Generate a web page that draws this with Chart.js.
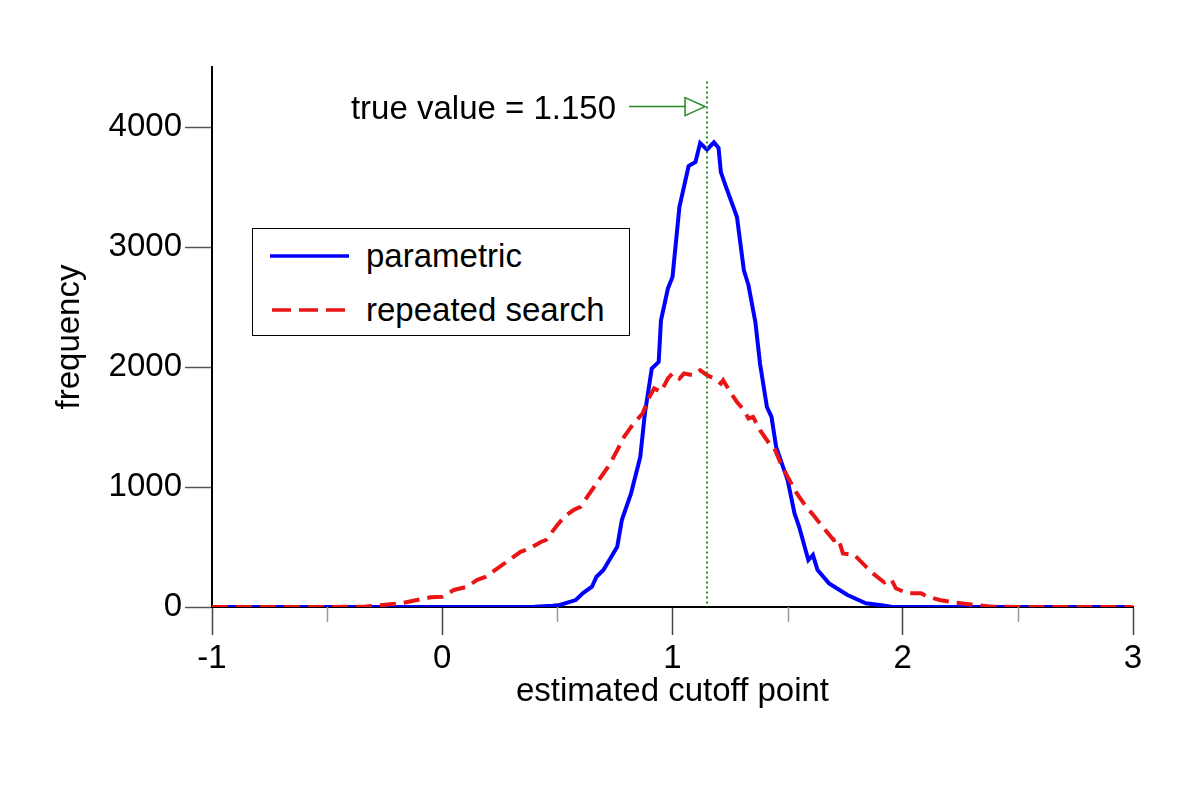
<!DOCTYPE html>
<html>
<head>
<meta charset="utf-8">
<script src="https://cdn.jsdelivr.net/npm/chart.js@4/dist/chart.umd.min.js"></script>
<style>
  html, body { margin: 0; padding: 0; background: #fff; }
  #wrap { position: relative; width: 1200px; height: 788px; }
  #legend {
    position: absolute; left: 252px; top: 228px; width: 378px; height: 108px;
    box-sizing: border-box; border: 1.5px solid #000; background: #fff;
    font-family: "Liberation Sans", Arial, Helvetica, sans-serif; font-size: 33px; color: #000;
  }
  #legend .row { position: absolute; left: 0; height: 40px; display: flex; align-items: center; }
  #legend svg { margin-left: 17px; margin-right: 17px; }
</style>
</head>
<body>
<div id="wrap">
  <canvas id="chart" width="1200" height="788"></canvas>
  <div id="legend">
    <div class="row" style="top:7px">
      <svg width="79" height="10"><line x1="0" y1="5" x2="79" y2="5" stroke="#0000ff" stroke-width="3.5"/></svg>
      <span>parametric</span>
    </div>
    <div class="row" style="top:61px">
      <svg width="79" height="10"><line x1="2" y1="5" x2="77" y2="5" stroke="rgb(235,20,20)" stroke-width="3.5" stroke-dasharray="19 8"/></svg>
      <span>repeated search</span>
    </div>
  </div>
</div>
<script>
// values
var parametricX = [-1, 0.40, 0.48, 0.51, 0.58, 0.61, 0.65, 0.67, 0.70, 0.76, 0.78, 0.82, 0.86, 0.88, 0.91, 0.94, 0.95, 0.98, 1.00, 1.03, 1.07, 1.10, 1.12, 1.15, 1.18, 1.20, 1.21, 1.23, 1.28, 1.31, 1.33, 1.36, 1.38, 1.41, 1.43, 1.45, 1.50, 1.53, 1.55, 1.59, 1.61, 1.63, 1.68, 1.76, 1.84, 1.90, 1.95, 2.5, 3];
var parametricY = [0, 3, 10, 17, 58, 114, 169, 252, 308, 502, 724, 947, 1251, 1613, 1987, 2042, 2390, 2654, 2750, 3333, 3674, 3708, 3866, 3811, 3872, 3827, 3624, 3514, 3250, 2806, 2681, 2373, 2029, 1668, 1584, 1335, 1057, 780, 669, 391, 433, 308, 197, 100, 31, 17, 3, 0, 0];

var searchX = [-1, -0.5, -0.34, -0.18, -0.11, -0.05, 0.00, 0.05, 0.11, 0.15, 0.19, 0.22, 0.29, 0.34, 0.38, 0.43, 0.45, 0.50, 0.53, 0.57, 0.60, 0.66, 0.73, 0.79, 0.82, 0.87, 0.90, 0.92, 0.95, 0.98, 1.00, 1.03, 1.05, 1.09, 1.12, 1.15, 1.18, 1.21, 1.22, 1.25, 1.28, 1.31, 1.33, 1.35, 1.38, 1.42, 1.44, 1.47, 1.50, 1.54, 1.58, 1.61, 1.64, 1.70, 1.72, 1.74, 1.79, 1.84, 1.87, 1.92, 1.95, 1.97, 2.02, 2.08, 2.10, 2.16, 2.22, 2.31, 2.39, 2.5, 3];
var searchY = [0, 0, 3, 31, 58, 81, 86, 142, 169, 225, 252, 294, 391, 460, 489, 544, 558, 683, 752, 808, 835, 1002, 1196, 1418, 1501, 1613, 1751, 1821, 1793, 1904, 1946, 1904, 1946, 1932, 1973, 1932, 1904, 1862, 1890, 1793, 1709, 1640, 1571, 1584, 1474, 1363, 1335, 1196, 1085, 947, 835, 770, 697, 558, 572, 447, 433, 336, 281, 204, 232, 156, 114, 114, 92, 58, 39, 17, 3, 0, 0];

var xTicks = [-1, 0, 1, 2, 3];
var xMinorTicks = [-0.5, 0.5, 1.5, 2.5];
var yTicks = [0, 1000, 2000, 3000, 4000];

var trueValue = 1.15;
var trueLabel = "true value = 1.150";
var arrowLevel = 4170;   // frequency level of the arrow
var markerTop = 4380;    // top of the dotted marker

function toPoints(xs, ys) {
    return xs.map(function(x, i) { return { x: x, y: ys[i] }; });
}

var FONT = '"Liberation Sans", Arial, Helvetica, sans-serif';
var green = "rgb(34,139,34)";

// minor ticks, true-value marker and arrow
var extras = {
    id: "extras",
    afterDatasetsDraw: function(chart) {
        var ctx = chart.ctx;
        var xs = chart.scales.x, ys = chart.scales.y;
        var bottom = chart.chartArea.bottom;

        ctx.save();
        ctx.strokeStyle = "#999";
        ctx.lineWidth = 1.5;
        xMinorTicks.forEach(function(v) {
            var px = Math.round(xs.getPixelForValue(v)) + 0.5;
            ctx.beginPath();
            ctx.moveTo(px, bottom);
            ctx.lineTo(px, bottom + 15);
            ctx.stroke();
        });

        var tx = xs.getPixelForValue(trueValue);
        ctx.strokeStyle = green;
        ctx.lineWidth = 2;
        ctx.setLineDash([2, 3]);
        ctx.beginPath();
        ctx.moveTo(tx, ys.getPixelForValue(markerTop));
        ctx.lineTo(tx, bottom);
        ctx.stroke();
        ctx.setLineDash([]);

        var ay = ys.getPixelForValue(arrowLevel);
        var tip = tx - 2;
        ctx.lineWidth = 1.5;
        ctx.beginPath();
        ctx.moveTo(tip - 76, ay);
        ctx.lineTo(tip - 20, ay);
        ctx.stroke();
        ctx.beginPath();
        ctx.moveTo(tip - 20, ay - 9);
        ctx.lineTo(tip, ay);
        ctx.lineTo(tip - 20, ay + 9);
        ctx.closePath();
        ctx.stroke();

        ctx.fillStyle = "#000";
        ctx.font = "33px " + FONT;
        ctx.textAlign = "right";
        ctx.textBaseline = "middle";
        ctx.fillText(trueLabel, tip - 89, ay + 3);
        ctx.restore();
    }
};

new Chart(document.getElementById("chart"), {
    type: "line",
    data: {
        datasets: [{
            label: "repeated search",
            data: toPoints(searchX, searchY),
            borderColor: "rgb(235,20,20)",
            borderWidth: 4,
            borderDash: [16, 8],
            pointRadius: 0,
            tension: 0,
            fill: false
        }, {
            label: "parametric",
            data: toPoints(parametricX, parametricY),
            borderColor: "#0000ff",
            borderWidth: 4,
            pointRadius: 0,
            tension: 0,
            fill: false
        }]
    },
    options: {
        responsive: false,
        animation: false,
        events: [],
        layout: { padding: { left: 50, right: 67, top: 67, bottom: 76 } },
        plugins: { legend: { display: false }, tooltip: { enabled: false } },
        scales: {
            x: {
                type: "linear",
                min: -1, max: 3,
                afterFit: function(scale) { scale.height = 105; },
                afterBuildTicks: function(scale) {
                    scale.ticks = xTicks.map(function(v) { return { value: v }; });
                },
                border: { color: "#000", width: 2 },
                grid: { drawOnChartArea: false, drawTicks: true, tickLength: 28, tickColor: "#444", tickWidth: 1.5 },
                ticks: { color: "#000", font: { family: FONT, size: 33 }, padding: 4, maxRotation: 0,
                    callback: function(v) { return String(v); } },
                title: { display: true, text: "estimated cutoff point", color: "#000", font: { family: FONT, size: 33 }, padding: 0 }
            },
            y: {
                type: "linear",
                min: 0, max: 4500,
                afterFit: function(scale) { scale.width = 162; },
                afterBuildTicks: function(scale) {
                    scale.ticks = yTicks.map(function(v) { return { value: v }; });
                },
                border: { color: "#000", width: 2 },
                grid: { drawOnChartArea: false, drawTicks: true, tickLength: 27, tickColor: "#555", tickWidth: 1.5 },
                ticks: { color: "#000", font: { family: FONT, size: 33 }, padding: 3,
                    callback: function(v) { return String(v); } },
                title: { display: true, text: "frequency", color: "#000", font: { family: FONT, size: 33 }, padding: 0 }
            }
        }
    },
    plugins: [extras]
});
</script>
</body>
</html>
